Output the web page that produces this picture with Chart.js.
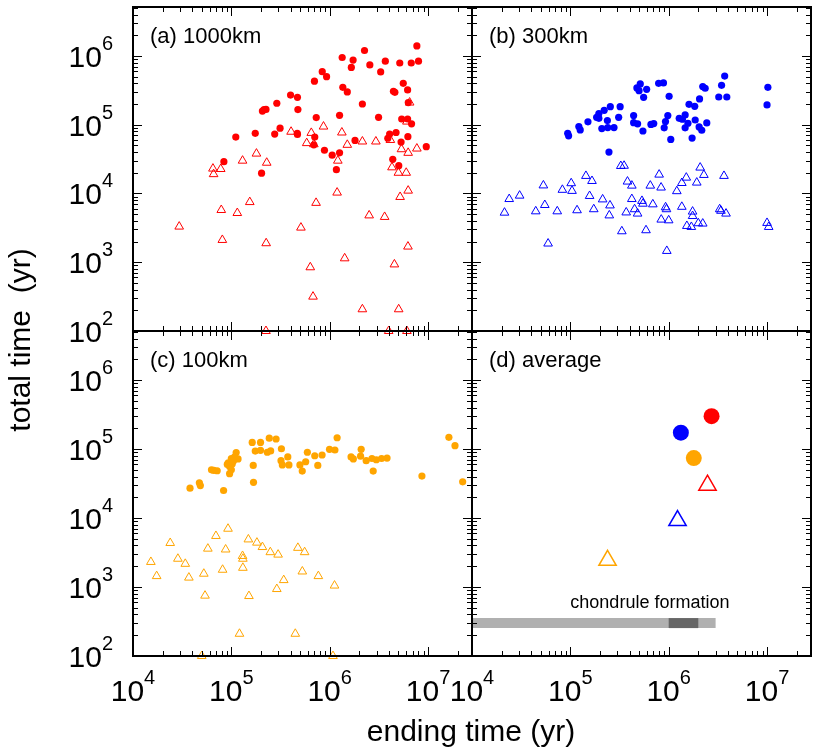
<!DOCTYPE html>
<html>
<head>
<meta charset="utf-8">
<script src="https://cdn.jsdelivr.net/npm/chart.js@4/dist/chart.umd.min.js"></script>
<style>
  html, body { margin: 0; padding: 0; background: #fff; }
  #wrap { position: relative; width: 814px; height: 752px; }
  canvas { position: absolute; left: 0; top: 0; }
</style>
</head>
<body>
<div id="wrap">
  <canvas id="ca" width="814" height="752"></canvas>
  <canvas id="cb" width="814" height="752"></canvas>
  <canvas id="cc" width="814" height="752"></canvas>
  <canvas id="cd" width="814" height="752"></canvas>
</div>
<script>
// ---------------- axis ranges & tick labels ----------------
const xRange = [1e4, 2.8e7];
const yRange = [100, 5.15e6];
const xTickExps = [4, 5, 6, 7];
const yTickExps = [2, 3, 4, 5, 6];
const panelTitles = ['(a) 1000km', '(b) 300km', '(c) 100km', '(d) average'];
const xTitle = 'ending time (yr)';
const yTitle = 'total time  (yr)';
const chondLabel = 'chondrule formation';

// ---------------- (a) 1000 km ----------------
const a_dot_x = [7.7e6,2.26e6,1.34e6,1.73e6,2.56e6,3.68e6,5.16e6,6.75e6,8.0e6,1.66e6,3.3e6,8.4e5,9.3e5,7.0e5,5.6e6,1.36e6,1.51e6,4.45e6,4.6e6,6.2e6,4.0e5,4.7e5,2.9e5,6.3e6,2.15e6,2.07e5,2.15e5,2.25e5,4.75e5,7.3e5,1.26e6,3.14e6,5.4e6,6.2e6,6.8e6,3.13e5,1.75e5,2.76e5,1.11e5,4.68e5,4.7e5,7.05e5,6.9e5,1.81e6,4.07e6,3.9e6,4.73e6,6.24e6,5.32e6,9.6e6,8.85e5,1.06e6,1.26e6,8.4e4,4.38e6,5.04e6,2.03e5,1.17e6];
const a_dot_y = [1.4e6,1.2e6,9.5e5,8.7e5,7.4e5,8.4e5,7.9e5,7.9e5,8.4e5,6.8e5,5.85e5,5.9e5,5.0e5,4.3e5,4.0e5,3.5e5,3.0e5,3.06e5,2.96e5,3.2e5,2.7e5,2.5e5,2.05e5,2.1e5,2.0e5,1.58e5,1.66e5,1.67e5,1.66e5,1.27e5,1.37e5,1.28e5,1.21e5,1.21e5,1.03e5,8.9e4,7.5e4,7.3e4,6.6e4,7.5e4,7.2e4,6.6e4,5.1e4,5.9e4,7.3e4,6.35e4,7.7e4,6.7e4,5.6e4,4.8e4,4.25e4,3.6e4,3.9e4,2.9e4,3.14e4,2.54e4,1.97e4,2.22e4];
const a_tri_x = [6.5e6,6.1e6,4.05e5,6.5e5,8.65e5,1.33e6,5.84e5,6.9e5,1.51e6,2.15e6,2.95e6,4.14e6,5.37e6,7.7e6,6.28e6,1.8e5,1.3e5,2.29e5,1.21e6,6.5e4,7.8e4,6.6e4,4.3e6,5.0e6,6.0e6,1.19e6,6.28e6,5.2e6,1.54e5,7.27e5,7.9e4,1.15e5,2.52e6,3.62e6,2.95e4,5.1e5,8.1e4,2.26e5,6.25e6,1.42e6,4.55e6,6.35e5,6.77e5,2.15e6,5.03e6,2.25e5,3.98e6,6.1e6];
const a_tri_y = [2.1e5,1.11e5,7.9e4,7.6e4,9.4e4,7.7e4,5.4e4,5.2e4,5.1e4,5.7e4,5.7e4,6.0e4,4.4e4,4.5e4,3.9e4,3.8e4,3.0e4,2.8e4,3.0e4,2.3e4,2.27e4,1.91e4,2.4e4,2.0e4,2.0e4,1.03e4,1.1e4,8.9e3,7.5e3,7.3e3,5.75e3,5.2e3,4.8e3,4.56e3,3.3e3,3.19e3,2.11e3,1.89e3,1.69e3,1.14e3,930,845,316,207,207,100,100,100];

// ---------------- (b) 300 km ----------------
const b_dot_x = [3.71e6,7.9e5,8.85e5,5.14e5,4.75e5,5.0e5,5.97e5,5.56e5,1.01e6,3.45e6,2.22e6,2.35e6,3.23e6,3.9e6,2.06e6,1.61e6,1.84e6,1.02e7,1.0e7,2.55e5,3.21e5,2.21e5,1.95e5,1.85e5,1.95e5,3.1e5,2.38e5,1.51e5,4.4e5,4.4e5,4.83e5,9.8e5,9.28e5,6.6e5,7.05e5,1.28e6,1.47e6,1.38e6,1.57e6,1.86e6,1.47e6,9.0e5,2.44e6,2.04e6,2.17e6,1.22e5,1.26e5,2.09e5,2.4e5,2.78e5,9.4e4,9.6e4,5.47e5,1.05e6,1.73e6,2.47e5];
const b_dot_y = [5.1e5,4.0e5,4.05e5,3.92e5,3.43e5,3.13e5,3.27e5,2.5e5,2.59e5,3.74e5,3.58e5,3.39e5,2.53e5,2.53e5,2.37e5,1.98e5,1.85e5,3.5e5,1.94e5,1.83e5,1.83e5,1.62e5,1.45e5,1.28e5,1.24e5,1.28e5,1.15e5,1.1e5,1.36e5,1.07e5,1.03e5,1.36e5,1.11e5,1.01e5,1.04e5,1.24e5,1.39e5,1.2e5,1.05e5,1.17e5,9.0e4,9.0e4,1.06e5,9.3e4,8.3e4,9.4e4,8.4e4,8.8e4,9.1e4,9.1e4,7.5e4,6.9e4,8.1e4,6.1e4,6.4e4,4.0e4];
const b_tri_x = [3.26e5,3.52e5,2.09e6,8.0e5,2.28e6,3.65e6,1.44e5,1.66e5,1.51e6,1.36e6,1.93e6,3.81e5,4.22e5,6.5e5,8.37e5,5.32e4,1.02e5,8.3e4,1.04e5,1.21e6,3.05e4,2.39e4,1.57e5,2.13e5,4.22e5,5.35e5,5.47e5,6.9e5,2.53e5,5.5e4,9.3e5,9.5e5,1.36e6,3.3e6,3.4e6,3.83e6,1.75e6,1.75e6,2.14e4,4.45e4,7.36e4,1.17e5,1.73e5,2.49e5,3.7e5,4.5e5,4.83e5,8.4e5,1.0e6,1.53e6,1.7e6,2.0e6,2.22e6,1.0e7,1.04e7,3.34e5,5.88e5,5.94e4,9.57e5];
const b_tri_y = [2.51e4,2.53e4,2.38e4,1.88e4,1.86e4,1.8e4,1.8e4,1.52e4,1.7e4,1.42e4,1.44e4,1.49e4,1.3e4,1.3e4,1.22e4,1.31e4,1.41e4,1.13e4,1.09e4,1.08e4,9.3e3,8.3e3,9.2e3,8.2e3,8.3e3,7.8e3,7.1e3,6.95e3,6.7e3,6.8e3,6.3e3,5.9e3,6.4e3,5.9e3,5.6e3,5.1e3,5.45e3,4.7e3,5.26e3,5.5e3,5.5e3,5.7e3,5.9e3,4.8e3,5.3e3,5.9e3,5.1e3,4.17e3,4.07e3,3.37e3,3.26e3,3.69e3,3.65e3,3.73e3,3.26e3,2.82e3,2.92e3,1.87e3,1.46e3];

// ---------------- (c) 100 km ----------------
const c_dot_x = [1.63e7,1.88e7,2.25e7,8.67e6,1.19e6,9.96e5,1.13e6,2.43e5,2.85e5,1.63e5,1.98e5,1.75e5,1.98e5,2.32e5,2.51e5,3.23e5,3.2e5,3.3e5,3.75e5,3.85e5,5.93e5,5.7e5,4.98e5,5.26e5,7.05e5,8.37e5,7.57e5,2.09e6,1.65e6,1.74e6,2.06e6,2.35e6,2.69e6,2.98e6,2.77e6,3.37e6,3.83e6,1.67e5,1.68e5,1.12e5,1.08e5,1.17e5,1.0e5,9.3e4,9.1e4,9.6e4,1.0e5,1.02e5,1.05e5,9.6e4,6.28e4,6.64e4,7.18e4,4.73e4,4.84e4,3.8e4,8.34e4];
const c_dot_y = [1.48e5,1.12e5,3.35e4,4.06e4,1.46e5,9.9e4,9.7e4,1.44e5,1.4e5,1.25e5,1.25e5,9.35e4,9.6e4,9.0e4,9.4e4,1.01e5,6.8e4,5.9e4,7.7e4,5.9e4,9.0e4,6.55e4,5.9e4,4.8e4,8.0e4,8.2e4,5.8e4,9.9e4,7.7e4,7.2e4,7.9e4,6.8e4,7.3e4,7.0e4,4.8e4,7.3e4,7.4e4,5.8e4,3.3e4,8.9e4,7.7e4,7.2e4,7.3e4,6.3e4,6.0e4,5.6e4,5.0e4,6.1e4,6.7e4,4.4e4,5.0e4,4.9e4,4.85e4,3.24e4,2.96e4,2.71e4,2.51e4];
const c_tri_x = [9.25e4,6.97e4,2.39e4,1.49e5,1.82e5,2.07e5,5.77e4,8.75e4,2.49e5,2.99e5,4.75e5,5.56e5,1.3e5,1.31e5,1.52e4,2.86e4,3.4e4,1.31e5,8.15e4,5.27e5,5.25e4,1.74e4,3.7e4,7.67e5,3.41e5,2.9e5,1.12e6,5.4e4,1.51e5,1.21e5,4.47e5,5.0e4,1.08e6];
const c_tri_y = [7.0e3,5.5e3,4.35e3,4.9e3,4.4e3,3.8e3,3.6e3,3.5e3,3.2e3,2.95e3,3.7e3,3.2e3,2.82e3,2.57e3,2.31e3,2.57e3,2.17e3,1.9e3,1.78e3,1.68e3,1.56e3,1.44e3,1.37e3,1.44e3,1.26e3,935,1.05e3,750,740,210,210,100,100];

// ---------------- (d) average ----------------
const avgNames = ['1000km', '300km', '100km'];
const avg_dot_x = [2.73e6, 1.33e6, 1.8e6];
const avg_dot_y = [3.0e5, 1.73e5, 7.4e4];
const avg_tri_x = [2.48e6, 1.23e6, 2.39e5];
const avg_tri_y = [3.0e4, 9.2e3, 2.44e3];
const chond_all_x = [1e4, 3e6];
const chond_peak_x = [1e6, 2e6];
const chond_y = 300;
const chondLabelAt = [1.0e5, 590];

// ---------------- styles ----------------
const RED = '#ff0000', BLUE = '#0000ff', ORANGE = '#ffa500';
const FONT = "'Liberation Sans', Arial, Helvetica, sans-serif";

function pts(xs, ys) { return xs.map((x, i) => ({ x: x, y: ys[i] })); }

function dotSet(xs, ys, color, r) {
  return { data: pts(xs, ys), pointStyle: 'circle', pointRadius: r, pointBackgroundColor: color,
           pointBorderColor: color, pointBorderWidth: 0, showLine: false, clip: false, order: 2 };
}
function triSet(xs, ys, color, r, bw) {
  return { data: pts(xs, ys), pointStyle: 'triangle', pointRadius: r, pointBackgroundColor: 'rgba(0,0,0,0)',
           pointBorderColor: color, pointBorderWidth: bw, showLine: false, clip: false, order: 1 };
}

function powLabel(ctx, exp, x, yBase, align) {
  ctx.font = '30px ' + FONT;
  const wb = ctx.measureText('10').width;
  ctx.font = '20px ' + FONT;
  const we = ctx.measureText(String(exp)).width;
  const w = wb + we;
  let sx = align === 'center' ? x - w / 2 : x - w;
  ctx.textAlign = 'left';
  ctx.textBaseline = 'alphabetic';
  ctx.font = '30px ' + FONT;
  ctx.fillText('10', sx, yBase);
  ctx.font = '20px ' + FONT;
  ctx.fillText(String(exp), sx + wb, yBase - 17);
}

const framePlugin = {
  id: 'frameTicks',
  afterDraw(chart, args, opts) {
    const ctx = chart.ctx;
    const { left, right, top, bottom } = chart.chartArea;
    const xs = chart.scales.x, ys = chart.scales.y;
    ctx.save();
    ctx.strokeStyle = '#000';
    ctx.fillStyle = '#000';
    ctx.lineWidth = 1;
    // x ticks
    for (let e = 4; e <= 7; e++) {
      for (let k = 1; k <= 9; k++) {
        const v = k * Math.pow(10, e);
        if (v < xRange[0] || v > xRange[1]) continue;
        const len = k === 1 ? 9 : 5;
        const px = Math.round(xs.getPixelForValue(v)) + 0.5;
        ctx.beginPath();
        ctx.moveTo(px, bottom); ctx.lineTo(px, bottom - len);
        ctx.moveTo(px, top); ctx.lineTo(px, top + len);
        ctx.stroke();
      }
    }
    // y ticks
    for (let e = 2; e <= 6; e++) {
      for (let k = 1; k <= 9; k++) {
        const v = k * Math.pow(10, e);
        if (v < yRange[0] || v > yRange[1]) continue;
        const len = k === 1 ? 9 : 5;
        const py = Math.round(ys.getPixelForValue(v)) + 0.5;
        ctx.beginPath();
        ctx.moveTo(left, py); ctx.lineTo(left + len, py);
        ctx.moveTo(right, py); ctx.lineTo(right - len, py);
        ctx.stroke();
      }
    }
    // frame
    ctx.lineWidth = 2;
    ctx.strokeRect(left, top, right - left, bottom - top);
    // panel title
    ctx.font = '22px ' + FONT;
    ctx.textAlign = 'left';
    ctx.textBaseline = 'middle';
    ctx.fillText(opts.title, left + 17, top + 30);
    // tick labels
    if (opts.yLabels) {
      yTickExps.forEach(e => {
        const py = ys.getPixelForValue(Math.pow(10, e));
        powLabel(ctx, e, left - 20, py + 11, 'right');
      });
    }
    if (opts.xLabels) {
      xTickExps.forEach(e => {
        const px = xs.getPixelForValue(Math.pow(10, e));
        powLabel(ctx, e, px, bottom + 45, 'center');
      });
    }
    if (opts.chond) {
      ctx.font = '18px ' + FONT;
      ctx.textAlign = 'left';
      ctx.textBaseline = 'middle';
      ctx.fillText(chondLabel, xs.getPixelForValue(chondLabelAt[0]), ys.getPixelForValue(chondLabelAt[1]));
    }
    if (opts.axisTitles) {
      ctx.font = '30px ' + FONT;
      ctx.textAlign = 'center';
      ctx.textBaseline = 'alphabetic';
      ctx.fillText(xTitle, 471, 741);
      ctx.save();
      ctx.translate(22, 340);
      ctx.rotate(-Math.PI / 2);
      ctx.textBaseline = 'middle';
      ctx.fillText(yTitle, 0, 0);
      ctx.restore();
    }
    ctx.restore();
  }
};

function makeChart(id, datasets, pad, popts) {
  return new Chart(document.getElementById(id), {
    type: 'scatter',
    data: { datasets: datasets },
    options: {
      responsive: false,
      animation: false,
      devicePixelRatio: 1,
      layout: { padding: pad, autoPadding: false },
      scales: {
        x: { type: 'logarithmic', min: xRange[0], max: xRange[1], display: false },
        y: { type: 'logarithmic', min: yRange[0], max: yRange[1], display: false }
      },
      plugins: { legend: { display: false }, tooltip: { enabled: false }, frameTicks: popts }
    },
    plugins: [framePlugin]
  });
}

makeChart('ca', [triSet(a_tri_x, a_tri_y, RED, 5, 1), dotSet(a_dot_x, a_dot_y, RED, 3.6)],
  { left: 133, right: 342, top: 7, bottom: 421 }, { title: panelTitles[0], yLabels: true });
makeChart('cb', [triSet(b_tri_x, b_tri_y, BLUE, 5, 1), dotSet(b_dot_x, b_dot_y, BLUE, 3.6)],
  { left: 472, right: 3, top: 7, bottom: 421 }, { title: panelTitles[1] });
makeChart('cc', [triSet(c_tri_x, c_tri_y, ORANGE, 5, 1), dotSet(c_dot_x, c_dot_y, ORANGE, 3.6)],
  { left: 133, right: 342, top: 331, bottom: 96 }, { title: panelTitles[2], yLabels: true, xLabels: true, axisTitles: true });

const avgColors = [RED, BLUE, ORANGE];
const dDatasets = [];
avgColors.forEach((c, i) => {
  dDatasets.push(triSet([avg_tri_x[i]], [avg_tri_y[i]], c, 10, 1.5));
  dDatasets.push(dotSet([avg_dot_x[i]], [avg_dot_y[i]], c, 8));
});
dDatasets.push({ type: 'line', data: pts(chond_all_x, [chond_y, chond_y]), borderColor: '#b0b0b0', borderWidth: 10,
  borderCapStyle: 'butt', pointRadius: 0, showLine: true, clip: false, order: 4 });
dDatasets.push({ type: 'line', data: pts(chond_peak_x, [chond_y, chond_y]), borderColor: '#666666', borderWidth: 10,
  borderCapStyle: 'butt', pointRadius: 0, showLine: true, clip: false, order: 3 });
makeChart('cd', dDatasets, { left: 472, right: 3, top: 331, bottom: 96 }, { title: panelTitles[3], xLabels: true, chond: true });
</script>
</body>
</html>
